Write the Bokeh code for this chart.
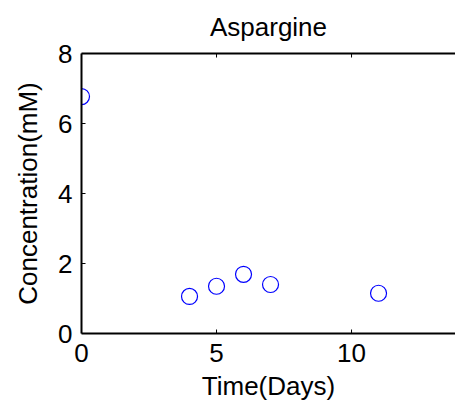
from bokeh.plotting import figure
from bokeh.models import Range1d, LinearAxis, FixedTicker
from bokeh.embed import file_html
from bokeh.resources import INLINE

# Data
days = [0, 4, 5, 6, 7, 11]
conc = [6.77, 1.06, 1.35, 1.69, 1.40, 1.15]

x_ticks = [0, 5, 10]
y_ticks = [0, 2, 4, 6, 8]

X_MIN, X_MAX = 0, 13.85
Y_MIN, Y_MAX = 0, 8

FONT = "Liberation Sans"
FS = "26px"

p = figure(width=455, height=410, output_backend="svg", toolbar_location=None,
           x_range=Range1d(X_MIN, X_MAX), y_range=Range1d(Y_MIN, Y_MAX),
           x_axis_label="Time(Days)", y_axis_label="Concentration(mM)",
           title="Aspargine", min_border_left=81, min_border_top=53,
           min_border_bottom=77, min_border_right=0)

p.outline_line_color = None
p.grid.visible = False

p.title.text_font = FONT
p.title.text_font_size = FS
p.title.text_font_style = "normal"
p.title.align = "center"
p.title.vertical_align = "top"
p.title.text_color = "black"
p.title.standoff = 20

for ax, ticks in ((p.xaxis[0], x_ticks), (p.yaxis[0], y_ticks)):
    ax.ticker = FixedTicker(ticks=ticks)
    ax.major_tick_in = 0
    ax.major_tick_out = 0
    ax.minor_tick_line_color = None
    ax.axis_line_color = "black"
    ax.axis_line_width = 2
    ax.major_label_text_font = FONT
    ax.major_label_text_font_size = FS
    ax.major_label_text_color = "black"
    ax.axis_label_text_font = FONT
    ax.axis_label_text_font_size = FS
    ax.axis_label_text_font_style = "normal"
    ax.axis_label_text_color = "black"

p.xaxis.major_label_standoff = 10
p.yaxis.major_label_standoff = 9
p.yaxis.major_label_orientation = "horizontal"
p.xaxis.axis_label_standoff = 6
p.yaxis.axis_label_standoff = 12

top = LinearAxis(ticker=FixedTicker(ticks=x_ticks), major_tick_in=0, major_tick_out=0,
                 minor_tick_line_color=None, axis_line_color="black", axis_line_width=2,
                 major_label_overrides={0: "", 5: "", 10: ""},
                 major_label_standoff=0)
p.add_layout(top, "above")

# inward tick marks (4 px long), derived from the tick lists
frame_w = 455 - 81
frame_h = 410 - 53 - 77
tl_x = 4 * (X_MAX - X_MIN) / frame_w
tl_y = 4 * (Y_MAX - Y_MIN) / frame_h
p.segment(x0=x_ticks, y0=[Y_MIN] * len(x_ticks), x1=x_ticks, y1=[Y_MIN + tl_y] * len(x_ticks),
          line_color="black", line_width=1)
p.segment(x0=x_ticks, y0=[Y_MAX] * len(x_ticks), x1=x_ticks, y1=[Y_MAX - tl_y] * len(x_ticks),
          line_color="black", line_width=1)
p.segment(x0=[X_MIN] * len(y_ticks), y0=y_ticks, x1=[X_MIN + tl_x] * len(y_ticks), y1=y_ticks,
          line_color="black", line_width=1)

p.scatter(days, conc, marker="circle", size=16, fill_color=None,
          line_color="#0000ff", line_width=1.2)

open("out.html", "w").write(file_html(p, INLINE))
